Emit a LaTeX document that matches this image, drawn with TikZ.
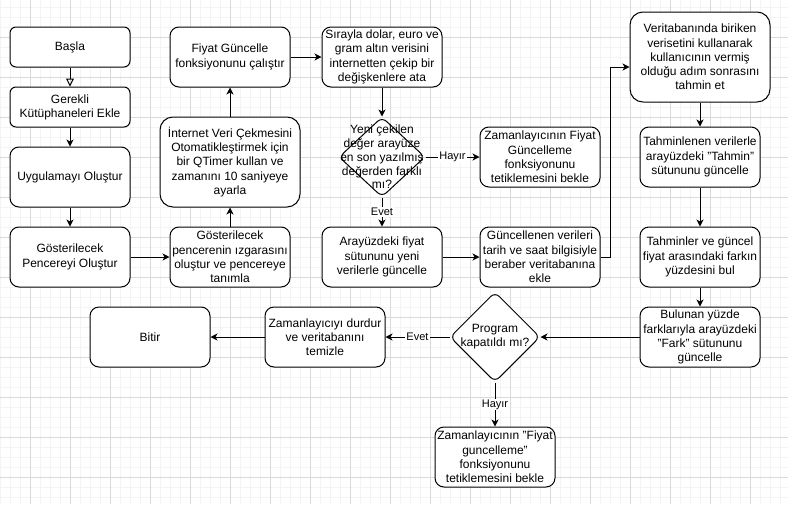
\documentclass[tikz,border=0pt]{standalone}
\usepackage{fontspec}
\setmainfont{Liberation Sans}
\usetikzlibrary{arrows.meta,shapes.geometric,calc}

\definecolor{gridmajor}{RGB}{218,218,218}
\definecolor{gridminor}{RGB}{244,244,244}

\tikzset{
  boxbase/.style={draw=black, line width=1pt, fill=white, align=center,
    inner sep=0pt, font=\fontsize{12pt}{14.2pt}\selectfont},
  smallbox/.style={boxbase, rounded corners=6pt, minimum width=120pt, minimum height=40pt},
  midbox/.style={boxbase, rounded corners=9pt, minimum width=120pt, minimum height=60pt},
  bigbox/.style={boxbase, rounded corners=13pt, minimum width=140pt, minimum height=90pt},
  decision/.style={diamond, draw=black, line width=1pt, fill=white, inner sep=0pt,
    rounded corners=6pt},
  dtext/.style={align=center, inner sep=0pt, font=\fontsize{12pt}{13.8pt}\selectfont},
  arr/.style={line width=1pt, -{Stealth[length=7pt,width=7pt,inset=2pt]}},
  openarr/.style={line width=1pt, -{Triangle[open,length=8pt,width=8pt]}},
  elabel/.style={fill=white, inner sep=1pt, font=\fontsize{11pt}{13pt}\selectfont}
}

\begin{document}
\begin{tikzpicture}[x=1pt,y=-1pt]
  % canvas and grid
  \fill[white] (0,0) rectangle (788,504);
  \useasboundingbox (0,0) rectangle (788,504);
  \foreach \gx in {0,10,...,780} \draw[gridminor,line width=1pt] (\gx,0) -- (\gx,504);
  \foreach \gy in {7,17,...,497} \draw[gridminor,line width=1pt] (0,\gy) -- (788,\gy);
  \foreach \gx in {30,70,...,750} \draw[gridmajor,line width=1pt] (\gx,0) -- (\gx,504);
  \foreach \gy in {37,77,...,477} \draw[gridmajor,line width=1pt] (0,\gy) -- (788,\gy);

  % left column
  \node[smallbox] (start) at (70,47) {Başla};
  \node[smallbox] (libs) at (70,107) {Gerekli\\Kütüphaneleri Ekle};
  \node[midbox] (app) at (70,177) {Uygulamayı Oluştur};
  \node[midbox] (win) at (70,257) {Gösterilecek\\Pencereyi Oluştur};

  % second column
  \node[midbox] (grid) at (230,257) {Gösterilecek\\pencerenin ızgarasını\\oluştur ve pencereye\\tanımla};
  \node[bigbox] (timer) at (230,162) {İnternet Veri Çekmesini\\Otomatikleştirmek için\\bir QTimer kullan ve\\zamanını 10 saniyeye\\ayarla};
  \node[midbox] (run) at (230,57) {Fiyat Güncelle\\fonksiyonunu çalıştır};

  % third column
  \node[midbox] (fetch) at (382,57) {Sırayla dolar, euro ve\\gram altın verisini\\internetten çekip bir\\değişkenlere ata};
  \node[decision, minimum width=86pt, minimum height=80pt] (d1) at (382,157) {};
  \node[dtext] at (d1.center) {Yeni çekilen\\değer arayüze\\en son yazılmış\\değerden farklı\\mı?};
  \node[midbox] (ui) at (382,257) {Arayüzdeki fiyat\\sütununu yeni\\verilerle güncelle};

  % fourth column
  \node[midbox] (wait1) at (540,157) {Zamanlayıcının Fiyat\\Güncelleme\\fonksiyonunu\\tetiklemesini bekle};
  \node[midbox] (store) at (540,257) {Güncellenen verileri\\tarih ve saat bilgisiyle\\beraber veritabanına\\ekle};

  % right column
  \node[bigbox] (pred) at (700,57) {Veritabanında biriken\\verisetini kullanarak\\kullanıcının vermiş\\olduğu adım sonrasını\\tahmin et};
  \node[midbox] (tahmin) at (700,157) {Tahminlenen verilerle\\arayüzdeki "Tahmin"\\sütununu güncelle};
  \node[midbox] (pct) at (700,257) {Tahminler ve güncel\\fiyat arasındaki farkın\\yüzdesini bul};
  \node[midbox] (fark) at (700,337) {Bulunan yüzde\\farklarıyla arayüzdeki\\"Fark" sütununu\\güncelle};

  % bottom row
  \node[decision, minimum width=90pt, minimum height=90pt] (d2) at (495,337) {};
  \node[dtext] at (d2.center) {Program\\kapatıldı mı?};
  \node[midbox] (wait2) at (495,457) {Zamanlayıcının "Fiyat\\guncelleme"\\fonksiyonunu\\tetiklemesini bekle};
  \node[midbox] (stop) at (325,337) {Zamanlayıcıyı durdur\\ve veritabanını\\temizle};
  \node[midbox] (finish) at (150,337) {Bitir};

  % connectors
  \draw[openarr] (start) -- (libs);
  \draw[arr] (libs) -- (app);
  \draw[arr] (app) -- (win);
  \draw[arr] (win) -- (grid);
  \draw[arr] (grid) -- (timer);
  \draw[arr] (timer) -- (run);
  \draw[arr] (run) -- (fetch);
  \draw[arr] (fetch) -- (d1.north);
  \draw[arr] (d1.east) -- node[elabel] {Hayır} (wait1);
  \draw[arr] (d1.south) -- node[elabel] {Evet} (ui);
  \draw[arr] (ui) -- (store);
  \draw[arr] (store.east) -- ++(10,0) |- ($(pred.west)+(0,10)$);
  \draw[arr] (pred) -- (tahmin);
  \draw[arr] (tahmin) -- (pct);
  \draw[arr] (pct) -- (fark);
  \draw[arr] (fark) -- (d2.east);
  \draw[arr] (d2.west) -- node[elabel] {Evet} (stop);
  \draw[arr] (d2.south) -- node[elabel] {Hayır} (wait2);
  \draw[arr] (stop) -- (finish);
\end{tikzpicture}
\end{document}
